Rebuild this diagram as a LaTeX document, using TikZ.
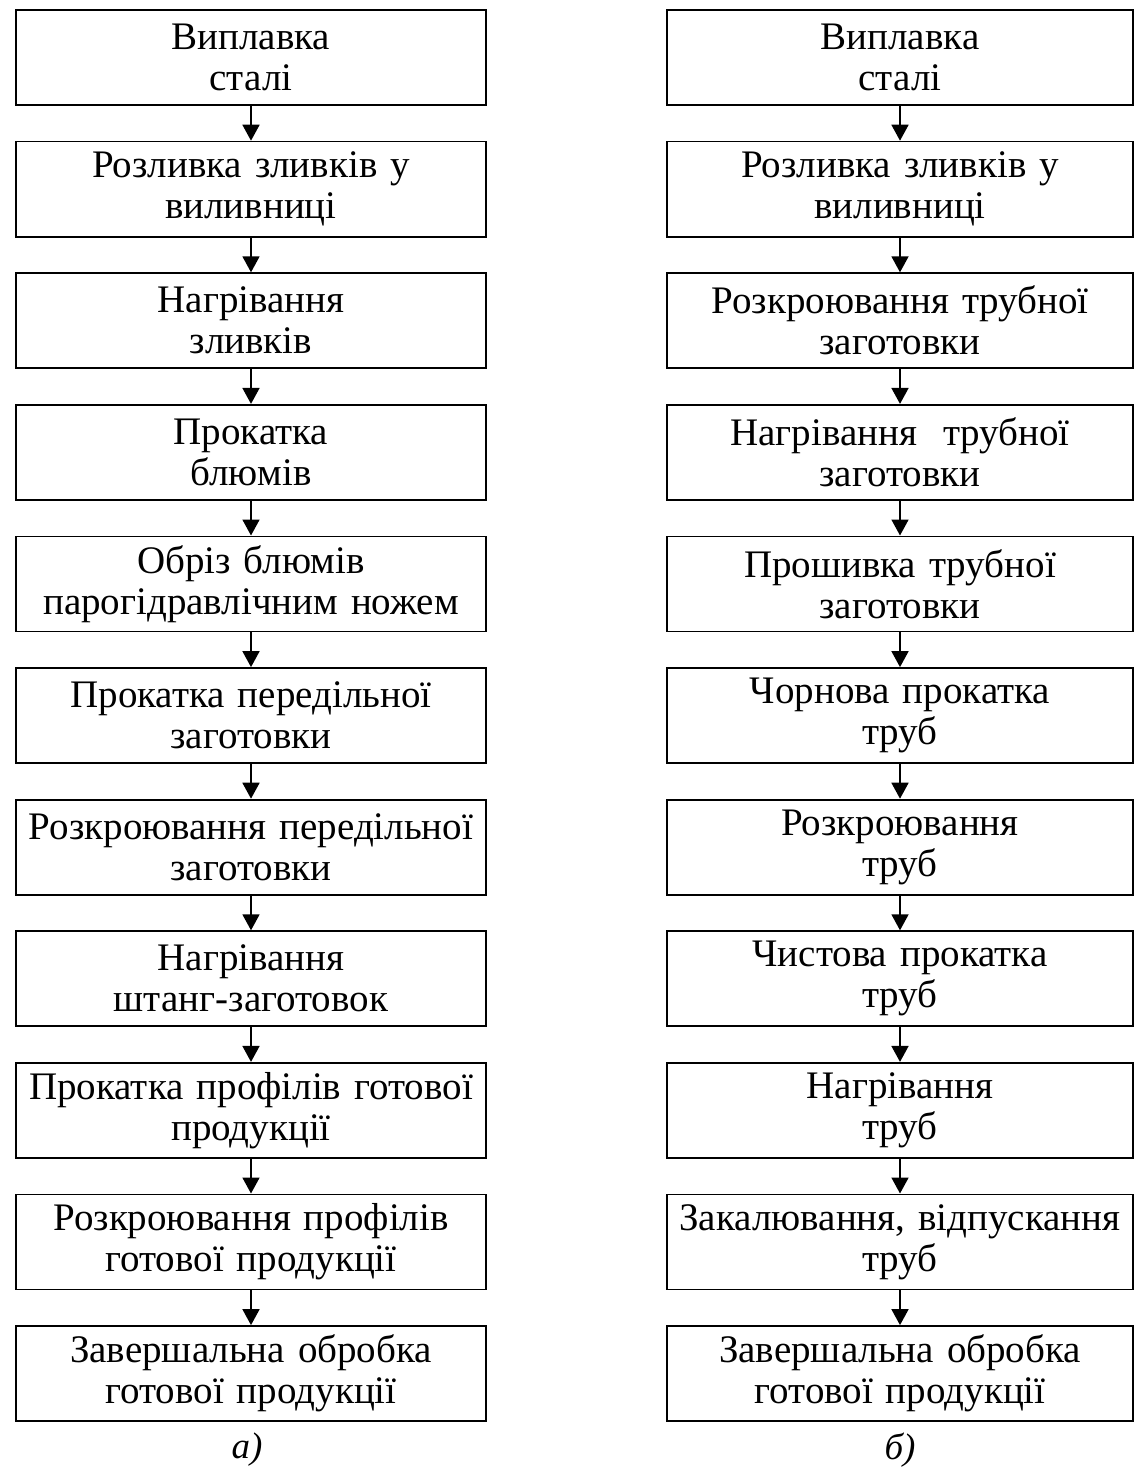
\documentclass[tikz,border=0pt]{standalone}
\usepackage{fontspec}
\setmainfont{Liberation Serif}
\usetikzlibrary{arrows.meta}
\begin{document}
\begin{tikzpicture}[x=1pt,y=1pt,
  stagebox/.style={draw, line width=1.8pt, rectangle, inner sep=0pt,
    minimum height=95pt, align=center,
    font=\fontsize{39}{41}\selectfont},
  leftbox/.style={stagebox, minimum width=470pt, text width=468pt},
  rightbox/.style={stagebox, minimum width=466pt, text width=464pt},
  flow/.style={line width=1.8pt, -{Triangle[length=16pt,width=17pt]}},
  caption/.style={font=\fontsize{37}{41}\selectfont\itshape}]
\useasboundingbox (0,0) rectangle (1134,-1474);

% left chain: long products
\foreach \t [count=\i] in {
  {Виплавка\\сталі},
  {Розливка зливків у\\виливниці},
  {Нагрівання\\зливків},
  {Прокатка\\блюмів},
  {Обріз блюмів\\парогідравлічним ножем},
  {Прокатка передільної\\заготовки},
  {Розкроювання передільної\\заготовки},
  {Нагрівання\\штанг-заготовок},
  {Прокатка профілів готової\\продукції},
  {Розкроювання профілів\\готової продукції},
  {Завершальна обробка\\готової продукції}}
  \node[leftbox] (L\i) at (251,{-57.5-(\i-1)*131.6}) {\t};

% right chain: tubes
\foreach \t [count=\i] in {
  {Виплавка\\сталі},
  {Розливка зливків у\\виливниці},
  {Розкроювання трубної\\заготовки},
  {Нагрівання~ трубної\\заготовки},
  {Прошивка трубної\\заготовки},
  {Чорнова прокатка\\труб},
  {Розкроювання\\труб},
  {Чистова прокатка\\труб},
  {Нагрівання\\труб},
  {Закалювання, відпускання\\труб},
  {Завершальна обробка\\готової продукції}}
  \node[rightbox] (R\i) at (900,{-57.5-(\i-1)*131.6}) {\t};

\foreach \i [evaluate=\i as \j using int(\i+1)] in {1,...,10} {
  \draw[flow] (L\i.south) -- (L\j.north);
  \draw[flow] (R\i.south) -- (R\j.north);
}

\node[caption] (capa) at (247,-1450) {а)};
\node[caption] (capb) at (900,-1450) {б)};
\end{tikzpicture}
\end{document}
